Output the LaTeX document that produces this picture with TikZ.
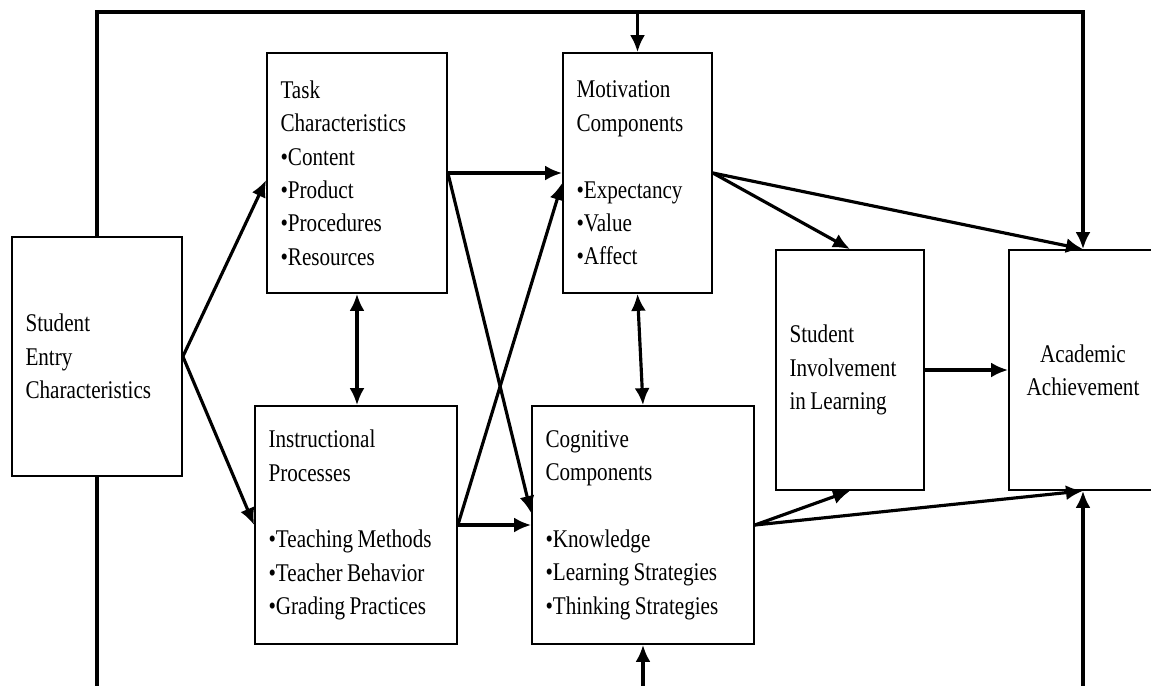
\documentclass[tikz,border=0pt]{standalone}
\usepackage{fontspec}
\setmainfont{Liberation Serif}[FakeStretch=0.83, WordSpace=0.85]
\usepackage{tikz}
\usetikzlibrary{arrows.meta}

\begin{document}
\begin{tikzpicture}[
  compbox/.style={draw, line width=1pt, inner xsep=0.27cm, align=flush left,
    minimum height=4.8cm, anchor=center, font=\fontsize{14.5}{19}\selectfont},
  link/.style={->, >={Latex[length=3.4mm,width=3mm]}, line width=1.8pt},
  wire/.style={line width=1.8pt}]
\useasboundingbox (0,0) rectangle (23.02,-13.7);
\clip (0,0) rectangle (23.02,-13.7);

\node[compbox, text width=2.86cm, minimum height=4.78cm] (entry) at (1.94,-7.13)
{Student\\Entry\\Characteristics};

\node[compbox, text width=3.06cm] (task) at (7.14,-3.46)
{Task\\Characteristics\\•Content\\•Product\\•Procedures\\•Resources};

\node[compbox, text width=2.44cm] (motiv) at (12.75,-3.46)
{Motivation\\Components\\[19pt]•Expectancy\\•Value\\•Affect};

\node[compbox, text width=3.5cm, minimum height=4.76cm] (instr) at (7.12,-10.5)
{Instructional\\Processes\\[19pt]•Teaching Methods\\•Teacher Behavior\\•Grading Practices};

\node[compbox, text width=3.9cm, minimum height=4.76cm] (cogn) at (12.86,-10.5)
{Cognitive\\Components\\[19pt]•Knowledge\\•Learning Strategies\\•Thinking Strategies};

\node[compbox, text width=2.42cm] (invol) at (17.0,-7.4)
{Student\\Involvement\\in Learning};

\node[compbox, text width=2.42cm, align=flush center] (acad) at (21.66,-7.4)
{Academic\\Achievement};

% feedback lines along the top and bottom
\coordinate (ceil) at (0,-0.24);
\coordinate (floor) at (0,-13.9);
\draw[link] (entry.north) -- (entry.north |- ceil) -| (acad.north);
\draw[link] (motiv.north |- ceil) -- (motiv.north);
\draw[wire] (entry.south) -- (entry.south |- floor);
\draw[link] (cogn.south |- floor) -- (cogn.south);
\draw[link] (acad.south |- floor) -- (acad.south);

\draw[link] (entry.east) -- ([yshift=-0.14cm]task.west);
\draw[link] (entry.east) -- (instr.west);

\draw[link] (task.east) -- (motiv.west);
\draw[link] (task.east) -- ([yshift=0.24cm]cogn.west);
\draw[link] (instr.east) -- ([yshift=-0.2cm]motiv.west);
\draw[link] (instr.east) -- (cogn.west);

\draw[link,<->] (task.south) -- (task.south |- instr.north);
\draw[link,<->] (motiv.south) -- (cogn.north);

\draw[link] (motiv.east) -- (invol.north);
\draw[link] (motiv.east) -- (acad.north);
\draw[link] (cogn.east) -- (invol.south);
\draw[link] (cogn.east) -- (acad.south);
\draw[link] (invol.east) -- (acad.west);
\end{tikzpicture}
\end{document}
